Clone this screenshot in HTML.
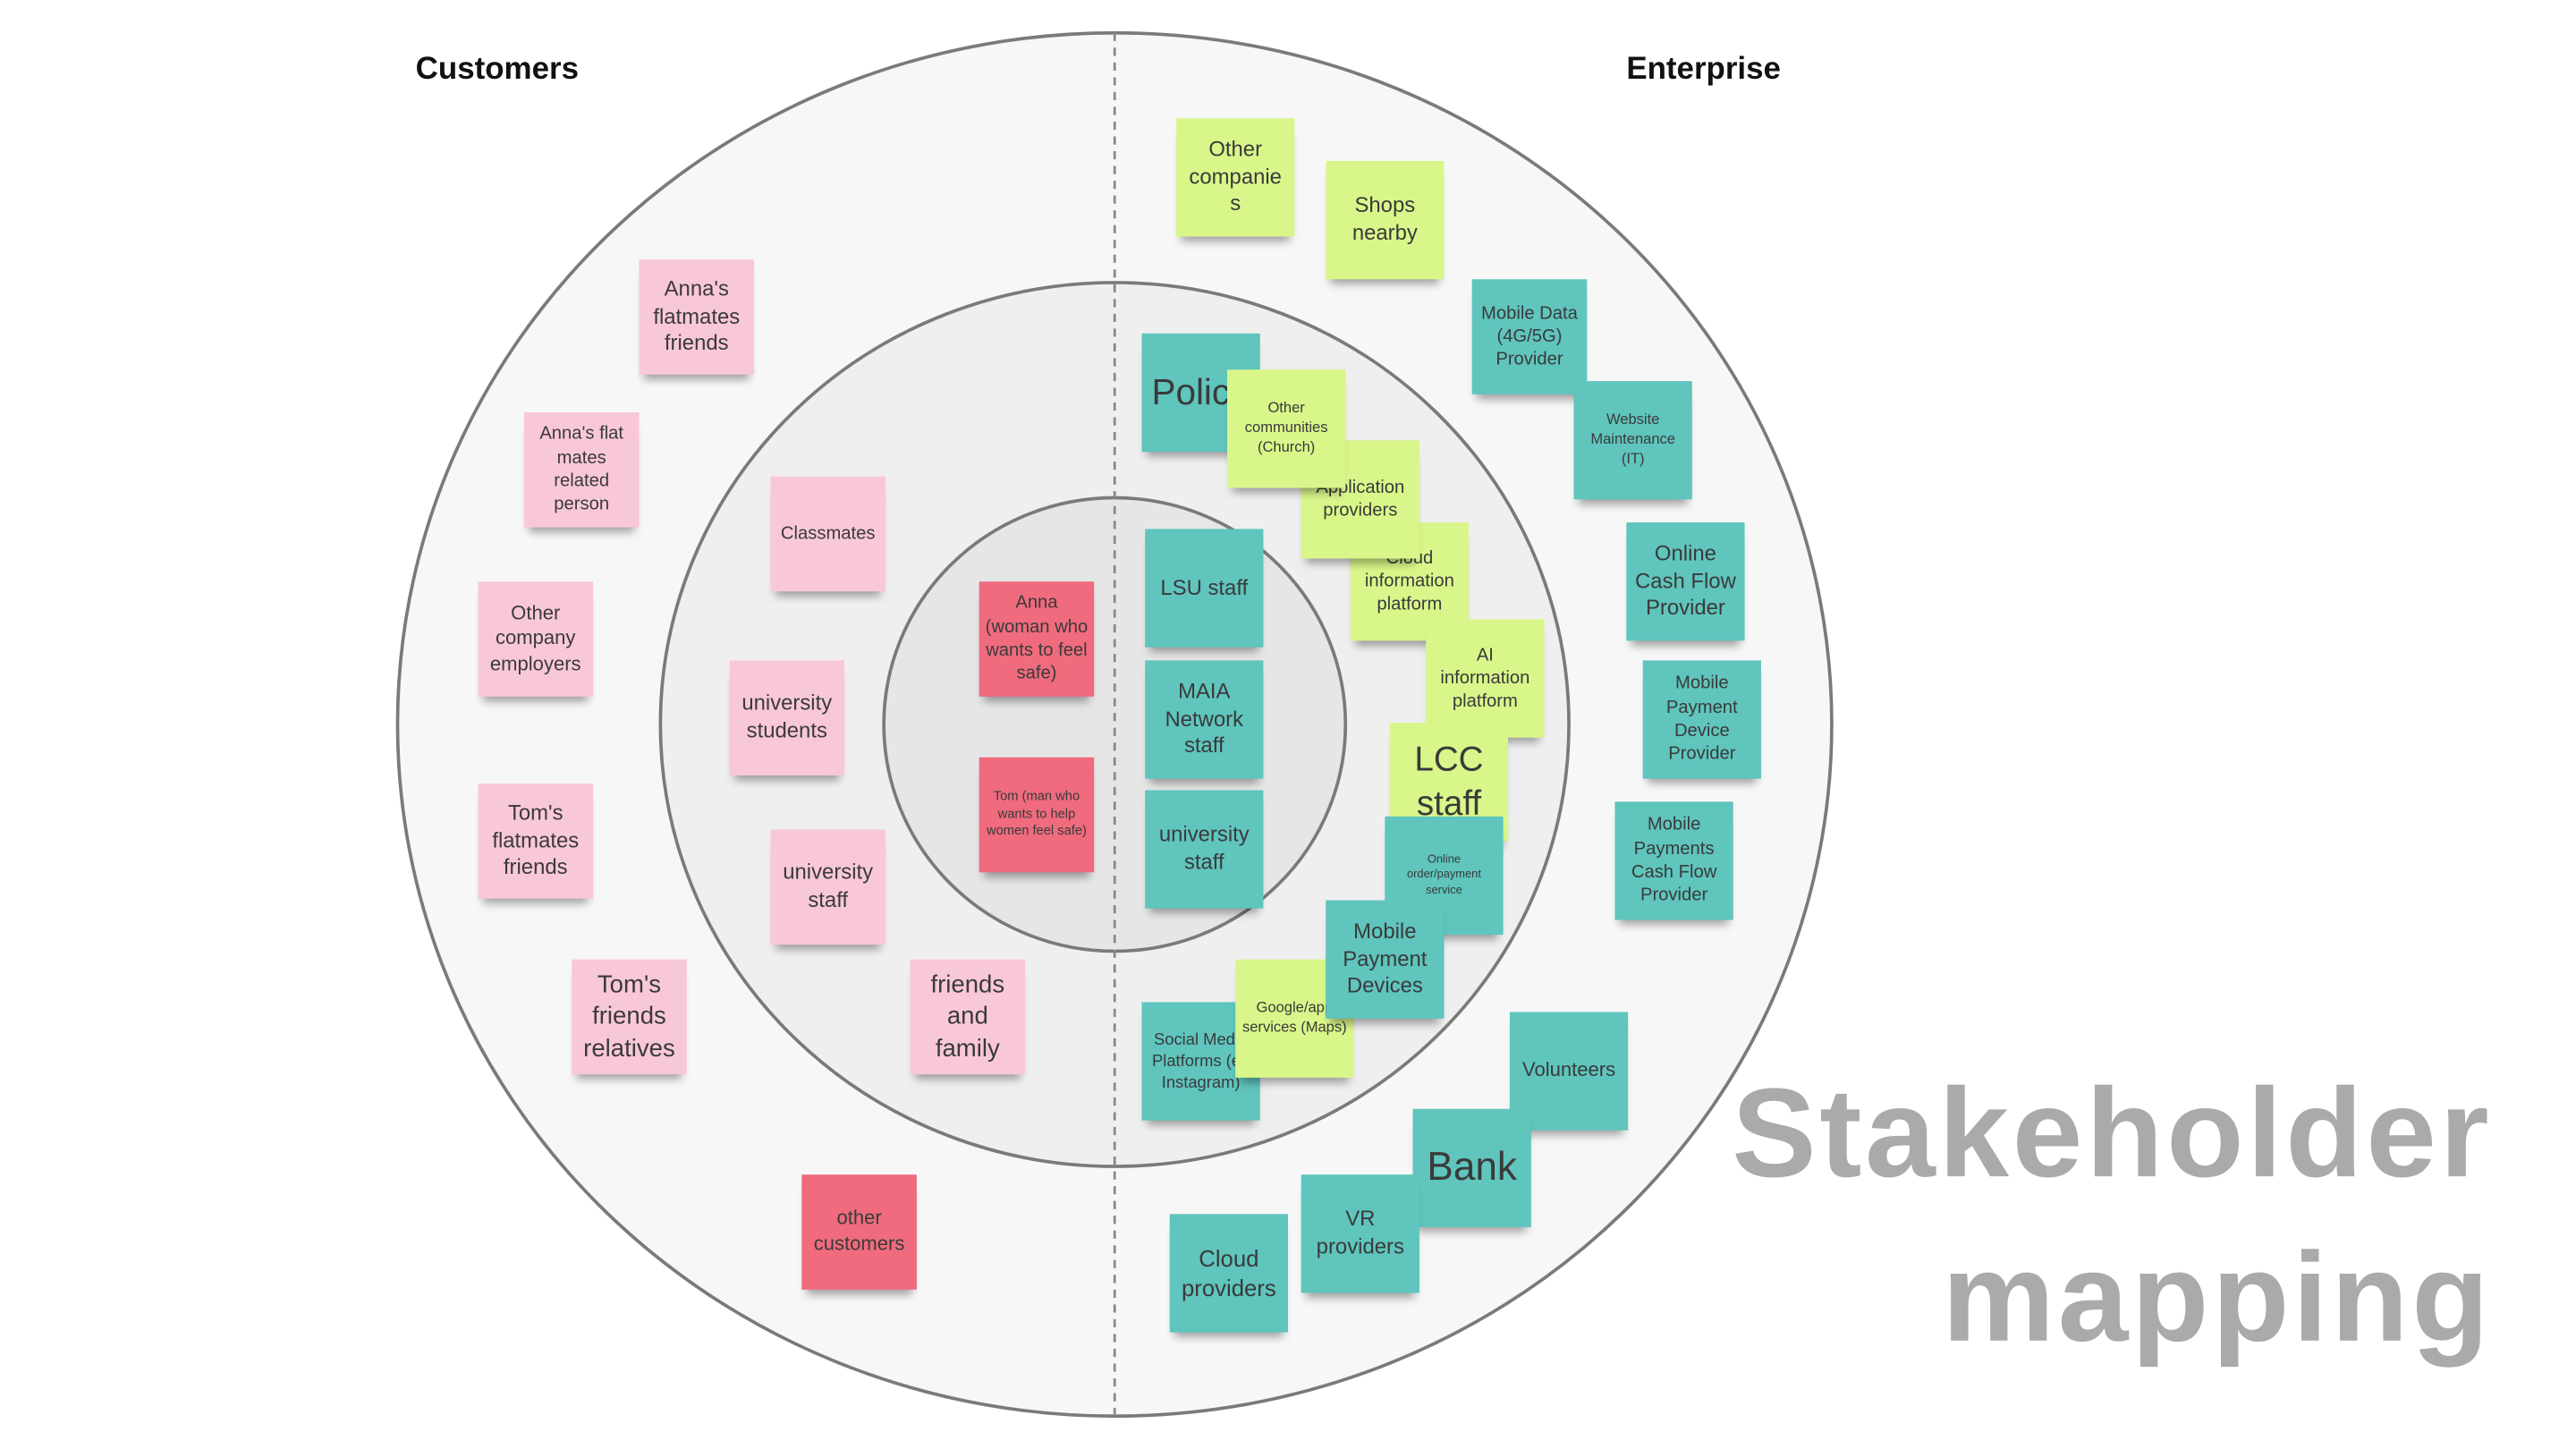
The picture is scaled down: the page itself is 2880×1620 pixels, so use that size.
<!DOCTYPE html>
<html><head><meta charset="utf-8"><style>
html,body{margin:0;padding:0;background:#fff;overflow:hidden}
#wrap{position:absolute;left:0;top:0;width:1568px;height:882px;transform:scale(1.8367);transform-origin:0 0;font-family:"Liberation Sans",sans-serif}
.n{position:absolute;width:70px;height:70px;display:flex;align-items:center;justify-content:center;text-align:center;color:#3a3a3a;line-height:1.3;box-shadow:0 6px 5px -3px rgba(0,0,0,.35);box-sizing:border-box;padding:0 3px;overflow:hidden}
.p{background:#f9c8d8}.r{background:#ef6b7d}.t{background:#5fc5bd}.l{background:#d9f68a}
.h{position:absolute;font-weight:bold;font-size:19px;color:#111}
.big{position:absolute;font-weight:bold;font-size:77px;color:#aaa;text-align:right;right:51px;line-height:100px;letter-spacing:2px}
</style></head><body><div id="wrap">
<svg width="1568" height="882" style="position:absolute;left:0;top:0">
<ellipse cx="678.5" cy="441" rx="436.5" ry="421" fill="#f7f7f7" stroke="#7a7a7a" stroke-width="2"/>
<ellipse cx="678.5" cy="441" rx="276.5" ry="269" fill="#efefef" stroke="#7a7a7a" stroke-width="2"/>
<ellipse cx="678.5" cy="441" rx="140.5" ry="138" fill="#e6e6e6" stroke="#7a7a7a" stroke-width="2"/>
<line x1="678.5" y1="20" x2="678.5" y2="862" stroke="#888" stroke-width="1.5" stroke-dasharray="5,4"/>
</svg>
<div class="h" style="left:253px;top:32px">Customers</div>
<div class="h" style="left:990px;top:32px">Enterprise</div>
<div class="big" style="top:640px">Stakeholder</div>
<div class="big" style="top:740px">mapping</div>

<div class="n p" style="left:389px;top:158px;font-size:13px">Anna's flatmates friends</div>
<div class="n p" style="left:319px;top:251px;font-size:11px">Anna's flat mates related person</div>
<div class="n p" style="left:291px;top:354px;font-size:12px">Other company employers</div>
<div class="n p" style="left:291px;top:477px;font-size:13px">Tom's flatmates friends</div>
<div class="n p" style="left:348px;top:584px;font-size:15px">Tom's friends relatives</div>
<div class="n p" style="left:469px;top:290px;font-size:11px">Classmates</div>
<div class="n p" style="left:444px;top:402px;font-size:13px">university students</div>
<div class="n p" style="left:469px;top:505px;font-size:13px">university staff</div>
<div class="n p" style="left:554px;top:584px;font-size:15px">friends and family</div>
<div class="n r" style="left:596px;top:354px;font-size:11px">Anna (woman who wants to feel safe)</div>
<div class="n r" style="left:596px;top:461px;font-size:8px">Tom (man who wants to help women feel safe)</div>
<div class="n r" style="left:488px;top:715px;font-size:12px">other customers</div>

<div class="n l" style="left:716px;top:72px;width:72px;height:72px;font-size:13px">Other companie s</div>
<div class="n l" style="left:807px;top:98px;width:72px;height:72px;font-size:13px">Shops nearby</div>
<div class="n t" style="left:896px;top:170px;font-size:11px">Mobile Data (4G/5G) Provider</div>
<div class="n t" style="left:958px;top:232px;width:72px;height:72px;font-size:9px">Website Maintenance (IT)</div>
<div class="n t" style="left:990px;top:318px;width:72px;height:72px;font-size:13px">Online Cash Flow Provider</div>
<div class="n t" style="left:1000px;top:402px;width:72px;height:72px;font-size:11px">Mobile Payment Device Provider</div>
<div class="n t" style="left:983px;top:488px;width:72px;height:72px;font-size:11px">Mobile Payments Cash Flow Provider</div>
<div class="n t" style="left:919px;top:616px;width:72px;height:72px;font-size:12px">Volunteers</div>
<div class="n t" style="left:860px;top:675px;width:72px;height:72px;font-size:24px">Bank</div>
<div class="n t" style="left:792px;top:715px;width:72px;height:72px;font-size:13px">VR providers</div>
<div class="n t" style="left:712px;top:739px;width:72px;height:72px;font-size:14px">Cloud providers</div>

<div class="n t" style="left:695px;top:203px;width:72px;height:72px;font-size:22px;justify-content:flex-start;padding-left:6px">Police</div>
<div class="n l" style="left:822px;top:318px;width:72px;height:72px;font-size:11px">Cloud information platform</div>
<div class="n l" style="left:868px;top:377px;width:72px;height:72px;font-size:11px">AI information platform</div>
<div class="n l" style="left:792px;top:268px;width:72px;height:72px;font-size:11px">Application providers</div>
<div class="n l" style="left:747px;top:225px;width:72px;height:72px;font-size:9px">Other communities (Church)</div>
<div class="n l" style="left:846px;top:440px;width:72px;height:72px;font-size:21px;line-height:1.3">LCC staff</div>
<div class="n t" style="left:843px;top:497px;width:72px;height:72px;font-size:7px">Online order/payment service</div>
<div class="n t" style="left:695px;top:610px;width:72px;height:72px;font-size:10px">Social Media Platforms (eg Instagram)</div>
<div class="n l" style="left:752px;top:584px;width:72px;height:72px;font-size:9px">Google/app services (Maps)</div>
<div class="n t" style="left:807px;top:548px;width:72px;height:72px;font-size:13px">Mobile Payment Devices</div>
<div class="n t" style="left:697px;top:322px;width:72px;height:72px;font-size:13px">LSU staff</div>
<div class="n t" style="left:697px;top:402px;width:72px;height:72px;font-size:13px">MAIA Network staff</div>
<div class="n t" style="left:697px;top:481px;width:72px;height:72px;font-size:13px">university staff</div>
</div></body></html>
